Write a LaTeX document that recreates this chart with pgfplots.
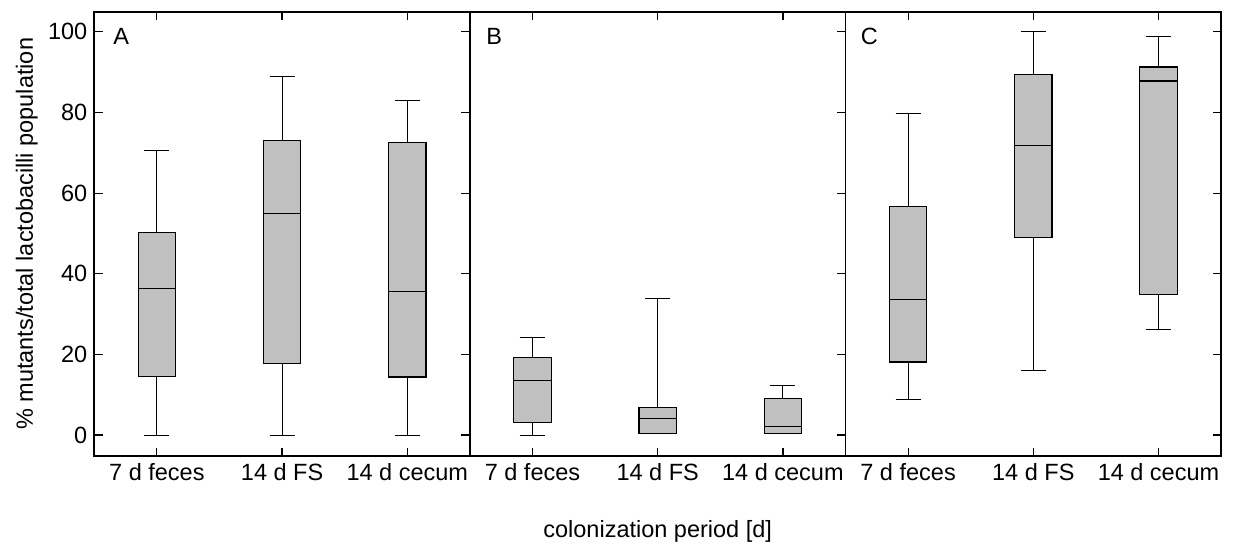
\documentclass[border=0pt]{standalone}
\usepackage{fontspec}
\setmainfont{Liberation Sans}
\usepackage{pgfplots}
\pgfplotsset{compat=1.18}
\usepgfplotslibrary{statistics}
\definecolor{boxgray}{RGB}{192,192,192}

\newcommand{\lblfont}{\fontsize{11.75}{14}\selectfont}

\pgfplotsset{
  panel/.style={
    scale only axis, width=187.8pt, height=222.15pt,
    xmin=0.5, xmax=3.5, ymin=-5.2, ymax=105,
    xtick={1,2,3}, xticklabels={7 d feces,14 d FS,14 d cecum},
    ytick={0,20,...,100},
    tick align=inside, major tick length=4.2pt,
    xtick pos=both,
    axis line style={line width=0.9pt},
    every tick/.style={black, line width=0.6pt},
    xticklabel style={font=\lblfont},
    yticklabel style={font=\lblfont},
    /pgf/number format/assume math mode=true,
    clip=false,
    boxplot/draw direction=y,
    boxplot/box extend=0.3,
    boxplot/whisker extend=0.2,
    boxplot/every whisker/.style={line width=0.5pt},
    boxplot/every box/.style={line width=0.6pt},
    boxplot/every median/.style={line width=0.6pt},
  },
  gbox/.style={fill=boxgray, draw=black, solid},
}
\tikzset{letter/.style={anchor=west, inner sep=0pt, font=\lblfont}}

\begin{document}
\begin{tikzpicture}
\useasboundingbox (-47.15pt,-44.5pt) rectangle (570.85pt,228pt);

% Panel A
\begin{axis}[panel, name=A, ytick pos=both]
  \addplot[gbox, boxplot prepared={draw position=1, lower whisker=0, lower quartile=14.5, median=36.3, upper quartile=50.3, upper whisker=70.6}] coordinates {};
  \addplot[gbox, boxplot prepared={draw position=2, lower whisker=0, lower quartile=17.8, median=54.9, upper quartile=73.1, upper whisker=89.0}] coordinates {};
  \addplot[gbox, boxplot prepared={draw position=3, lower whisker=0, lower quartile=14.4, median=35.6, upper quartile=72.6, upper whisker=83.0}] coordinates {};
  \node[letter] at (rel axis cs:0.05,0.944) {A};
\end{axis}

% Panel B
\begin{axis}[panel, name=B, at={(A.south east)}, anchor=south west,
  ytick pos=right, yticklabels={}]
  \addplot[gbox, boxplot prepared={draw position=1, lower whisker=0, lower quartile=3.2, median=13.5, upper quartile=19.3, upper whisker=24.1}] coordinates {};
  \addplot[gbox, boxplot prepared={draw position=2, lower whisker=0.3, lower quartile=0.3, median=4.1, upper quartile=6.9, upper whisker=33.9}] coordinates {};
  \addplot[gbox, boxplot prepared={draw position=3, lower whisker=0.3, lower quartile=0.3, median=2.2, upper quartile=9.1, upper whisker=12.2}] coordinates {};
  \node[letter] at (rel axis cs:0.043,0.944) {B};
\end{axis}

% Panel C
\begin{axis}[panel, name=C, at={(B.south east)}, anchor=south west,
  ytick pos=right, yticklabels={}]
  \addplot[gbox, boxplot prepared={draw position=1, lower whisker=8.8, lower quartile=18.1, median=33.7, upper quartile=56.6, upper whisker=79.7}] coordinates {};
  \addplot[gbox, boxplot prepared={draw position=2, lower whisker=15.9, lower quartile=49.0, median=71.9, upper quartile=89.4, upper whisker=100}] coordinates {};
  \addplot[gbox, boxplot prepared={draw position=3, lower whisker=26.2, lower quartile=34.9, median=87.8, upper quartile=91.3, upper whisker=98.8}] coordinates {};
  \node[letter] at (rel axis cs:0.04,0.944) {C};
\end{axis}

% shared axis titles
\node[rotate=90, font=\lblfont] at (-33.7pt,111.1pt) {\% mutants/total lactobacilli population};
\node[anchor=base, font=\lblfont] at (281.7pt,-41pt) {colonization period [d]};
\end{tikzpicture}
\end{document}
